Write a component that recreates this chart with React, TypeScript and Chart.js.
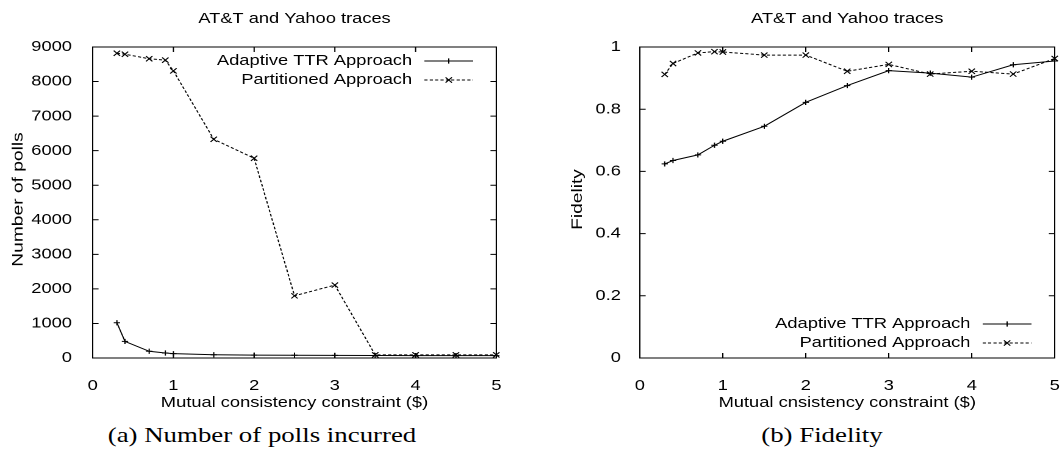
import React, { useEffect, useRef } from 'react';
import { Chart, registerables } from 'chart.js';

Chart.register(...registerables);

// ---------- data ----------
const chartTitle = 'AT&T and Yahoo traces';
const seriesNames = ['Adaptive TTR Approach', 'Partitioned Approach'];
const constraintX = [0.3, 0.4, 0.7, 0.9, 1.0, 1.5, 2.0, 2.5, 3.0, 3.5, 4.0, 4.5, 5.0];
const adaptivePolls = [1020, 480, 195, 145, 125, 95, 85, 80, 75, 72, 70, 70, 70];
const partitionedPolls = [8820, 8790, 8660, 8620, 8310, 6330, 5780, 1800, 2110, 90, 90, 90, 90];
const adaptiveFidelity = [0.624, 0.635, 0.653, 0.684, 0.697, 0.745, 0.822, 0.876, 0.924, 0.916, 0.903, 0.943, 0.955];
const partitionedFidelity = [0.912, 0.947, 0.981, 0.985, 0.984, 0.974, 0.974, 0.922, 0.944, 0.913, 0.922, 0.913, 0.963];
const xTicks = [0, 1, 2, 3, 4, 5];
const pollTicks = [0, 1000, 2000, 3000, 4000, 5000, 6000, 7000, 8000, 9000];
const fidelityTicks = [0, 0.2, 0.4, 0.6, 0.8, 1];
const xTitles = ['Mutual consistency constraint ($)', 'Mutual cnsistency constraint ($)'];
const yTitles = ['Number of polls', 'Fidelity'];
const captions = ['(a) Number of polls incurred', '(b) Fidelity'];

// ---------- look ----------
const S = 1.22; // horizontal stretch of the reference figure
const H = 420;
const FONT = '"Liberation Sans", Arial, Helvetica, sans-serif';
Chart.defaults.font.family = FONT;
Chart.defaults.color = '#000';

function drawMarker(ctx: CanvasRenderingContext2D, style: string, r: number, x: number, y: number) {
  ctx.beginPath();
  if (style === 'cross') {
    ctx.moveTo(x - r, y); ctx.lineTo(x + r, y);
    ctx.moveTo(x, y - r); ctx.lineTo(x, y + r);
  } else {
    const d = r * Math.SQRT1_2;
    ctx.moveTo(x - d, y - d); ctx.lineTo(x + d, y + d);
    ctx.moveTo(x + d, y - d); ctx.lineTo(x - d, y + d);
  }
  ctx.stroke();
}

const gnuFramePlugin = {
  id: 'gnuFrame',
  beforeDatasetsDraw(chart: any, _a: any, opts: any) {
    const { ctx, chartArea: a, scales } = chart;
    ctx.save();
    ctx.strokeStyle = '#000';
    ctx.lineWidth = 1;
    ctx.strokeRect(a.left, a.top, a.right - a.left, a.bottom - a.top);
    ctx.beginPath();
    for (const t of scales.x.ticks) {
      const px = scales.x.getPixelForValue(t.value);
      ctx.moveTo(px, a.bottom); ctx.lineTo(px, a.bottom - 5);
      ctx.moveTo(px, a.top); ctx.lineTo(px, a.top + 5);
    }
    for (const t of scales.y.ticks) {
      const py = scales.y.getPixelForValue(t.value);
      ctx.moveTo(a.left, py); ctx.lineTo(a.left + 4.8, py);
      ctx.moveTo(a.right, py); ctx.lineTo(a.right - 4.8, py);
    }
    ctx.stroke();
    ctx.restore();
  },
  afterDatasetsDraw(chart: any, _a: any, opts: any) {
    const { ctx, chartArea: a } = chart;
    const rows = opts.legendAt === 'top' ? [a.top + 14, a.top + 33] : [a.bottom - 34, a.bottom - 15];
    ctx.save();
    chart.data.datasets.forEach((ds: any, i: number) => {
      const y = rows[i];
      ctx.fillStyle = '#000';
      ctx.strokeStyle = '#000';
      ctx.lineWidth = 1;
      ctx.font = `15px ${FONT}`;
      ctx.textAlign = 'right';
      ctx.textBaseline = 'middle';
      ctx.fillText(ds.label, a.right - 69, y);
      ctx.setLineDash(ds.borderDash || []);
      ctx.beginPath();
      ctx.moveTo(a.right - 59, y);
      ctx.lineTo(a.right - 19, y);
      ctx.stroke();
      ctx.setLineDash([]);
      drawMarker(ctx, ds.pointStyle, ds.pointRadius, a.right - 39, y);
    });
    ctx.restore();
  },
  afterDraw(chart: any, _a: any, opts: any) {
    const { ctx, chartArea: a } = chart;
    ctx.save();
    ctx.translate(opts.yTitleX, (a.top + a.bottom) / 2 - 3);
    ctx.scale(1 / S, 1.28);
    ctx.rotate(-Math.PI / 2);
    ctx.font = `15px ${FONT}`;
    ctx.fillStyle = '#000';
    ctx.textAlign = 'center';
    ctx.textBaseline = 'middle';
    ctx.fillText(opts.yTitle, 0, 0);
    ctx.restore();
  },
};

type Spec = {
  width: number;
  ys: number[][];
  yMax: number;
  yTicks: number[];
  yWidth: number;
  padRight: number;
  tickPad: number;
  xTitle: string;
  yTitle: string;
  yTitleX: number;
  legendAt: 'top' | 'bottom';
};

function createChart(canvas: HTMLCanvasElement, spec: Spec) {
  const styles = [
    { pointStyle: 'cross', pointRadius: 2.6, borderDash: [] as number[] },
    { pointStyle: 'crossRot', pointRadius: 3.7, borderDash: [2.6, 1.8] },
  ];
  const chart = new Chart(canvas, {
    type: 'line',
    data: {
      datasets: spec.ys.map((ys, i) => ({
        label: seriesNames[i],
        data: constraintX.map((x, j) => ({ x, y: ys[j] })),
        borderColor: '#000',
        backgroundColor: '#000',
        borderWidth: 1,
        pointBorderWidth: 1,
        pointBorderColor: '#000',
        tension: 0,
        clip: false,
        ...styles[i],
      })),
    },
    options: {
      responsive: false,
      animation: false,
      devicePixelRatio: 2,
      events: [],
      layout: { padding: { left: 0, right: spec.padRight, top: 0, bottom: 4 } },
      plugins: {
        legend: { display: false },
        tooltip: { enabled: false },
        title: {
          display: true,
          fullSize: false,
          text: chartTitle,
          color: '#000',
          font: { size: 15, weight: 'normal', family: FONT },
          padding: { top: 10, bottom: 19 },
        },
        gnuFrame: { legendAt: spec.legendAt, yTitle: spec.yTitle, yTitleX: spec.yTitleX },
      },
      scales: {
        x: {
          type: 'linear',
          min: 0,
          max: 5,
          grid: { display: false },
          border: { display: false },
          afterBuildTicks: (s: any) => { s.ticks = xTicks.map((v) => ({ value: v })); },
          afterFit: (s: any) => { s.height = 58; s.paddingLeft = 0; s.paddingRight = 0; },
          ticks: { color: '#000', font: { size: 15 }, padding: 11, maxRotation: 0, autoSkip: false, callback: (v: any) => String(v) },
          title: { display: true, text: spec.xTitle, color: '#000', font: { size: 15 }, padding: { top: 0, bottom: 4 } },
        },
        y: {
          type: 'linear',
          min: 0,
          max: spec.yMax,
          grid: { display: false },
          border: { display: false },
          afterBuildTicks: (s: any) => { s.ticks = spec.yTicks.map((v) => ({ value: v })); },
          afterFit: (s: any) => { s.width = spec.yWidth; s.paddingTop = 0; s.paddingBottom = 0; },
          ticks: { color: '#000', font: { size: 15 }, padding: spec.tickPad, autoSkip: false, callback: (v: any) => String(v) },
        },
      },
    } as any,
    plugins: [gnuFramePlugin as any],
  });
  canvas.style.width = `${spec.width * S}px`;
  canvas.style.height = `${H}px`;
  return chart;
}

const leftSpec: Spec = {
  width: 433,
  ys: [adaptivePolls, partitionedPolls],
  yMax: 9000,
  yTicks: pollTicks,
  yWidth: 76,
  padRight: 26,
  tickPad: 9,
  xTitle: xTitles[0],
  yTitle: yTitles[0],
  yTitleX: 15,
  legendAt: 'top',
};

const rightSpec: Spec = {
  width: 436,
  ys: [adaptiveFidelity, partitionedFidelity],
  yMax: 1,
  yTicks: fidelityTicks,
  yWidth: 90,
  padRight: 6,
  tickPad: 7.5,
  xTitle: xTitles[1],
  yTitle: yTitles[1],
  yTitleX: 39,
  legendAt: 'bottom',
};

export default function App() {
  const leftRef = useRef<HTMLCanvasElement>(null);
  const rightRef = useRef<HTMLCanvasElement>(null);

  useEffect(() => {
    const charts = [createChart(leftRef.current!, leftSpec), createChart(rightRef.current!, rightSpec)];
    return () => charts.forEach((c) => c.destroy());
  }, []);

  const captionStyle = (cx: number): React.CSSProperties => ({
    position: 'absolute',
    left: cx - 250,
    width: 500,
    top: 424,
    textAlign: 'center',
    fontFamily: '"Liberation Serif", "Times New Roman", serif',
    fontSize: 22,
    lineHeight: '22px',
    color: '#000',
    transform: `scaleX(${S})`,
    whiteSpace: 'nowrap',
  });

  return (
    <div style={{ position: 'absolute', left: 0, top: 0, width: 1062, height: 450, background: '#fff', overflow: 'hidden' }}>
      <canvas ref={leftRef} width={leftSpec.width} height={H} style={{ position: 'absolute', left: 0, top: 0 }} />
      <canvas ref={rightRef} width={rightSpec.width} height={H} style={{ position: 'absolute', left: 530, top: 0 }} />
      <div style={captionStyle(262)}>{captions[0]}</div>
      <div style={captionStyle(822)}>{captions[1]}</div>
    </div>
  );
}
